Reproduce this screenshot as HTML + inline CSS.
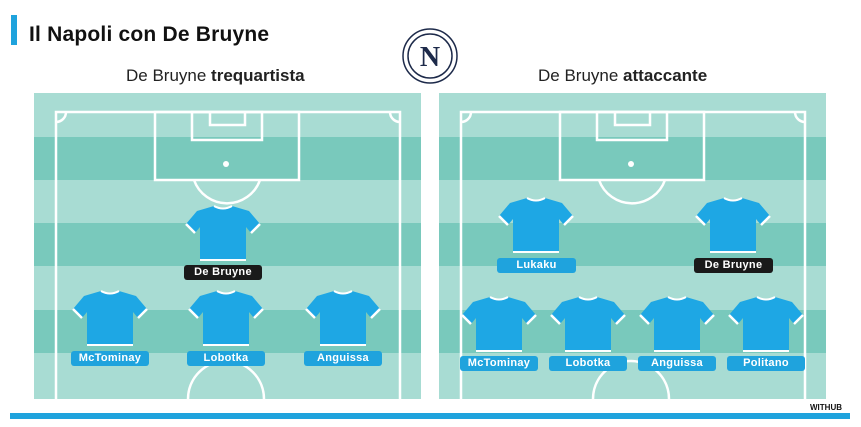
<!DOCTYPE html>
<html><head><meta charset="utf-8"><style>
body{margin:0;width:861px;height:427px;background:#fff;position:relative;overflow:hidden;font-family:"Liberation Sans",sans-serif}
.abs{position:absolute}
.lbl{position:absolute;height:15px;line-height:15px;border-radius:3px;background:#1fa3dd;color:#fff;font-weight:bold;font-size:11px;text-align:center;letter-spacing:0.3px}
.blk{background:#1a1a1a}
</style></head><body>
<div class="abs" style="left:11px;top:15px;width:6px;height:30px;background:#1fa3dd"></div>
<div class="abs" style="left:29px;top:23px;font-size:21px;font-weight:bold;color:#111;letter-spacing:0.2px">Il Napoli con De Bruyne</div>
<div class="abs" style="left:126px;top:66px;font-size:17px;color:#222">De Bruyne <b>trequartista</b></div>
<div class="abs" style="left:538px;top:66px;font-size:17px;color:#222">De Bruyne <b>attaccante</b></div>
<svg class="abs" style="left:0;top:0" width="861" height="427">
<defs>
<g id="pitch">
<rect x="0" y="0" width="387" height="306" fill="#a8dcd3"/>
<rect x="0" y="44" width="387" height="43" fill="#79c9bc"/>
<rect x="0" y="130" width="387" height="43" fill="#79c9bc"/>
<rect x="0" y="217" width="387" height="43" fill="#79c9bc"/>
<g fill="none" stroke="#fff" stroke-width="2.5">
<path d="M22 306 V19 H366 V306"/>
<rect x="121" y="19" width="144" height="68"/>
<rect x="158" y="19" width="70" height="28"/>
<path d="M176 19 v13 h35 v-13"/>
<path d="M160 87 A35 35 0 0 0 226 87"/>
<path d="M22 29 A10 10 0 0 0 32 19 M356 19 A10 10 0 0 0 366 29"/>
<path d="M154 306 A38 38 0 0 1 230 306"/>
</g>
<circle cx="192" cy="71" r="3" fill="#fff"/>
</g>
<g id="j">
<path d="M-9 0 Q0 5 9 0 L26 5 L37 18 L28 27 L23 21 L23 55 L-23 55 L-23 21 L-28 27 L-37 18 L-26 5 Z" fill="#1ea7e4"/>
<path d="M-9 0 Q0 5 9 0" stroke="#fff" stroke-width="2" fill="none"/>
<path d="M-37 18 L-28 27 M37 18 L28 27" stroke="#fff" stroke-width="2.5"/>
<path d="M-23 54 H23" stroke="#fff" stroke-width="2"/>
</g>
</defs>
<use href="#pitch" x="34" y="93"/>
<use href="#pitch" x="439" y="93"/>
<use href="#j" x="223" y="206"/>
<use href="#j" x="110" y="291"/>
<use href="#j" x="226" y="291"/>
<use href="#j" x="343" y="291"/>
<use href="#j" x="536" y="198"/>
<use href="#j" x="733" y="198"/>
<use href="#j" x="499" y="297"/>
<use href="#j" x="588" y="297"/>
<use href="#j" x="677" y="297"/>
<use href="#j" x="766" y="297"/>
<circle cx="430" cy="56" r="27" fill="#fff" stroke="#1d2a4a" stroke-width="1.5"/>
<circle cx="430" cy="56" r="22" fill="none" stroke="#1d2a4a" stroke-width="1.5"/>
<text x="430" y="66" font-family="Liberation Serif" font-weight="bold" font-size="28" fill="#1d2a4a" text-anchor="middle">N</text>
<rect x="10" y="413" width="840" height="6" fill="#1fa3dd"/>
<text x="842" y="410" font-size="8" font-weight="bold" fill="#111" text-anchor="end">WITHUB</text>
</svg>
<div class="lbl blk" style="left:184px;top:265px;width:78px">De Bruyne</div>
<div class="lbl" style="left:71px;top:351px;width:78px">McTominay</div>
<div class="lbl" style="left:187px;top:351px;width:78px">Lobotka</div>
<div class="lbl" style="left:304px;top:351px;width:78px">Anguissa</div>
<div class="lbl" style="left:497px;top:258px;width:79px">Lukaku</div>
<div class="lbl blk" style="left:694px;top:258px;width:79px">De Bruyne</div>
<div class="lbl" style="left:460px;top:356px;width:78px">McTominay</div>
<div class="lbl" style="left:549px;top:356px;width:78px">Lobotka</div>
<div class="lbl" style="left:638px;top:356px;width:78px">Anguissa</div>
<div class="lbl" style="left:727px;top:356px;width:78px">Politano</div>
</body></html>
